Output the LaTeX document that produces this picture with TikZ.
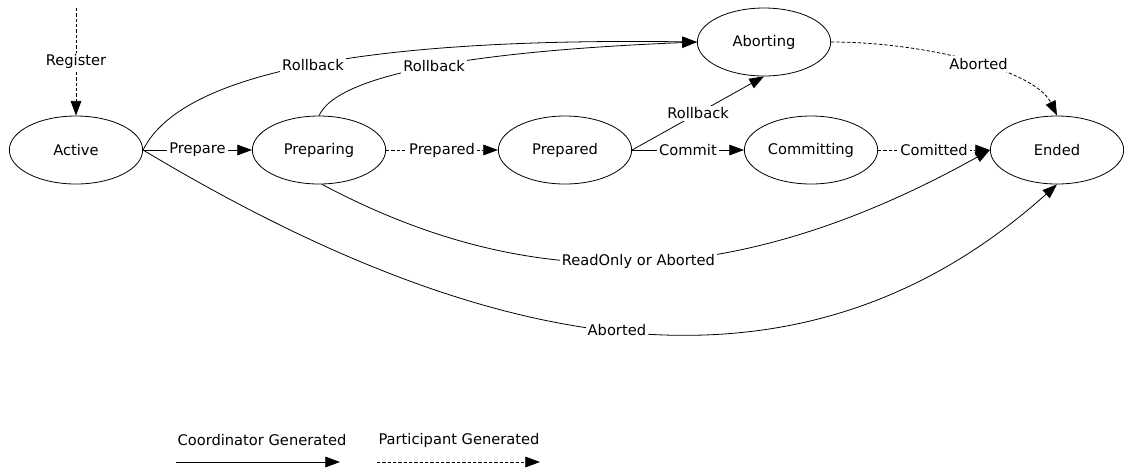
\documentclass[tikz,border=0pt]{standalone}
\usepackage{fontspec}
\setmainfont{DejaVu Sans}
\usetikzlibrary{shapes.geometric,arrows.meta}
\begin{document}
\begin{tikzpicture}[x=0.75pt,y=-0.75pt,
  txt/.style={font=\fontsize{11}{13}\selectfont},
  state/.style={draw,ellipse,minimum width=100pt,minimum height=51pt,inner sep=0pt,line width=0.6pt,txt},
  lbl/.style={fill=white,inner sep=1.5pt,txt},
  coordarrow/.style={line width=0.6pt,-{Triangle[length=11pt,width=8pt]}},
  partarrow/.style={coordarrow,dash pattern=on 2.5pt off 1.5pt}]
\useasboundingbox (0,0) rectangle (1124,469);
\node[state] (active) at (76,150) {Active};
\node[state] (preparing) at (319,150) {Preparing};
\node[state] (prepared) at (565,150) {Prepared};
\node[state] (committing) at (811,150) {Committing};
\node[state] (ended) at (1057,150) {Ended};
\node[state] (aborting) at (764,42) {Aborting};
\coordinate (regstart) at (76,8);
\draw[partarrow] (regstart) -- node[lbl] {Register} (active.north);
\draw[coordarrow] (active.east) -- node[lbl] {Prepare} (preparing.west);
\draw[partarrow] (preparing.east) -- node[lbl] {Prepared} (prepared.west);
\draw[coordarrow] (prepared.east) -- node[lbl] {Commit} (committing.west);
\draw[partarrow] (committing.east) -- node[lbl] {Comitted} (ended.west);
\draw[coordarrow] (prepared.east) -- node[lbl] {Rollback} (aborting.south);
\draw[coordarrow] (active.east) .. controls (185,65) and (400,38) .. node[lbl,pos=0.48] {Rollback} (aborting.west);
\draw[coordarrow] (preparing.north) .. controls (340,70) and (500,50) .. node[lbl,pos=0.48] {Rollback} (aborting.west);
\draw[partarrow] (aborting.east) .. controls (925,42) and (1035,70) .. node[lbl,pos=0.53] {Aborted} (ended.north);
\draw[coordarrow] (preparing.-85) .. controls (530,295) and (735,292) .. node[lbl,pos=0.5] {ReadOnly or Aborted} (ended.west);
\draw[coordarrow] (active.east) .. controls (493,360) and (801,414) .. node[lbl,pos=0.48] {Aborted} (ended.south);
\node[txt] (legc) at (262,440) {Coordinator Generated};
\node[txt] (legp) at (459,440) {Participant Generated};
\coordinate (lc1) at (176,462);
\coordinate (lc2) at (340,462);
\coordinate (lp1) at (377,462);
\coordinate (lp2) at (540,462);
\draw[coordarrow] (lc1) -- (lc2);
\draw[partarrow] (lp1) -- (lp2);
\end{tikzpicture}
\end{document}
